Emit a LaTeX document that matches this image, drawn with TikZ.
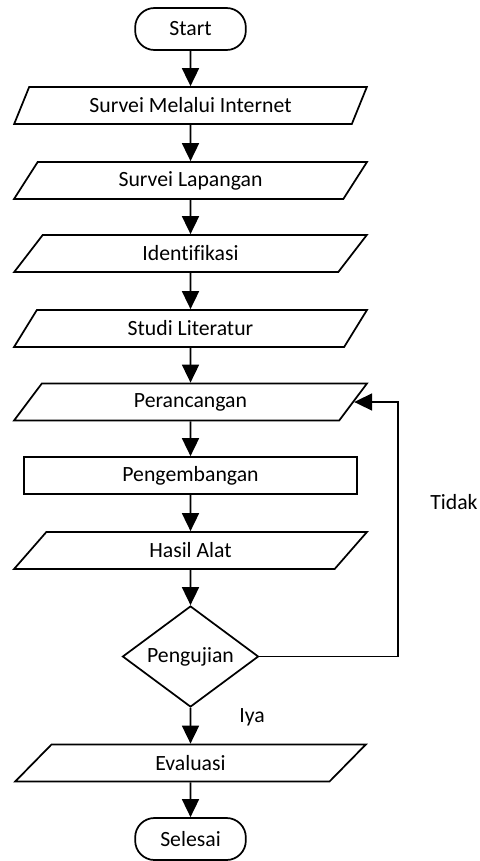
\documentclass[tikz,border=0pt]{standalone}
\usepackage{fontspec}
\setmainfont{Carlito}[Ligatures=NoCommon]
\usetikzlibrary{shapes.geometric,arrows.meta}

\tikzset{
  base/.style={draw, line width=1.3pt, inner sep=1pt, align=center},
  terminal/.style={base, rectangle, rounded corners=14.5pt,
    minimum width=83pt, minimum height=31.5pt},
  io/.style={base, trapezium, trapezium left angle=62, trapezium right angle=118,
    trapezium stretches=true, minimum width=264.75pt, minimum height=27.75pt},
  process/.style={base, rectangle, minimum width=249.75pt, minimum height=27.75pt},
  decision/.style={base, diamond, aspect=1.35, minimum width=102pt, minimum height=75.75pt},
  arrow/.style={line width=1.3pt, -{Triangle[length=13.5pt, width=12.75pt]}},
  label/.style={inner sep=0pt}
}

\begin{document}
\begin{tikzpicture}[font=\fontsize{16.3}{19}\selectfont, x=0.75pt, y=-0.75pt]

\useasboundingbox (0,0) rectangle (479,861);

\node[terminal] (start) at (190.5,29) {Start};
\node[io] (survei) at (190.5,105.5) {Survei Melalui Internet};
\node[io] (lapangan) at (190.5,180.5) {Survei Lapangan};
\node[io] (identifikasi) at (190.5,253.5) {Identifikasi};
\node[io] (studi) at (190.5,328.5) {Studi Literatur};
\node[io] (rancang) at (190.5,402) {Perancangan};
\node[process] (kembang) at (190.5,475.5) {Pengembangan};
\node[io] (hasil) at (190.5,550.5) {Hasil Alat};
\node[decision] (uji) at (190.5,656.5) {Pengujian};
\node[io] (evaluasi) at (190.5,763) {Evaluasi};
\node[terminal] (selesai) at (190.5,839) {Selesai};

\foreach \a/\b in {start/survei, survei/lapangan, lapangan/identifikasi,
  identifikasi/studi, studi/rancang, rancang/kembang, kembang/hasil,
  hasil/uji, uji/evaluasi, evaluasi/selesai}
  \draw[arrow] (\a) -- (\b);

% loop back
\coordinate (balik) at (398,656.5);
\draw[arrow] (uji.east) -- (balik) |- (rancang.east);

\node[label] (tidak) at (454,502) {Tidak};
\node[label] (iya) at (252,717) {Iya};

\end{tikzpicture}
\end{document}
